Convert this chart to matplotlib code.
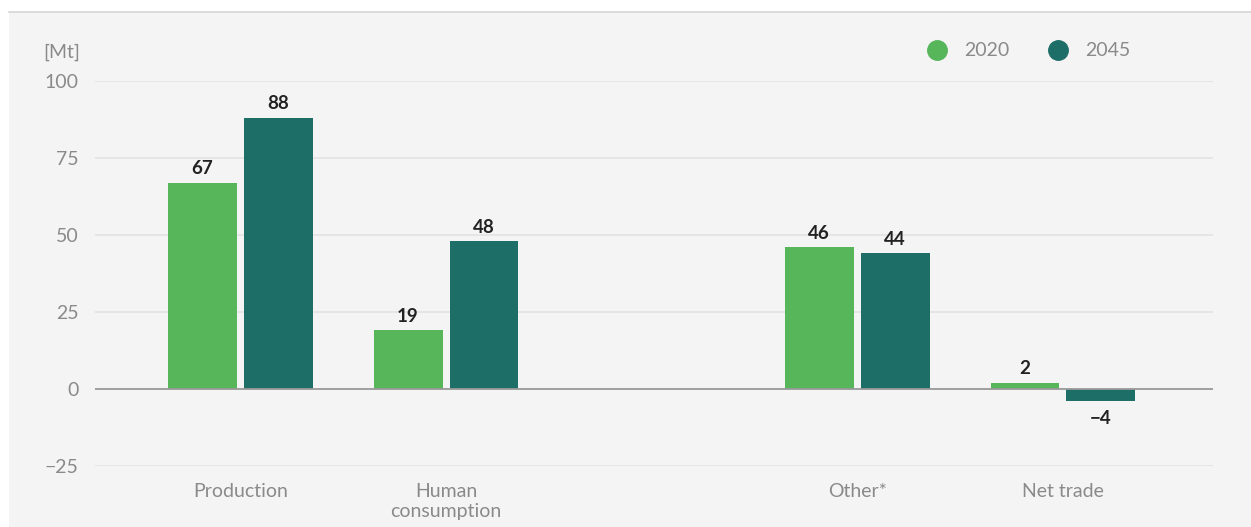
import numpy as np
import matplotlib.pyplot as plt
from matplotlib.patches import Rectangle
from matplotlib.lines import Line2D

categories = ['Production', 'Human\nconsumption', '', 'Other*', 'Net trade']
values_2020 = [67, 19, np.nan, 46, 2]
values_2045 = [88, 48, np.nan, 44, -4]
series_names = ['2020', '2045']
colors = ['#57b55a', '#1e6e68']
yticks = [-25, 0, 25, 50, 75, 100]

plt.rcParams['font.family'] = ['Lato', 'DejaVu Sans']

W, H = 1251, 527
fig = plt.figure(figsize=(W / 100, H / 100), dpi=100, facecolor='white')

# panel background with top rule
fig.patches.append(Rectangle((9 / W, 0), 1 - 9 / W, (H - 12) / H, transform=fig.transFigure,
                             facecolor='#f4f4f4', edgecolor='none', zorder=-5))
fig.lines.append(Line2D([9 / W, 1], [(H - 12) / H] * 2, transform=fig.transFigure,
                        color='#d6d6d6', lw=1.2, zorder=-4))

ax = fig.add_axes([95 / W, (H - 466) / H, (1213 - 95) / W, (466 - 81) / H])
ax.set_facecolor('none')
ax.set_zorder(2)

x = np.arange(len(categories))
bw = 0.335
gap = 0.034
off = (bw + gap) / 2
for vals, dx, c in [(values_2020, -off, colors[0]), (values_2045, off, colors[1])]:
    ax.bar(x + dx, vals, width=bw, color=c, zorder=3)
    for xi, v in zip(x + dx, vals):
        if np.isnan(v):
            continue
        if v >= 0:
            ax.annotate(f'{v:g}', (xi, v), xytext=(0, 4), textcoords='offset points',
                        ha='center', va='bottom', fontsize=13.5, fontweight='bold', color='#222222')
        else:
            ax.annotate(f'\u2212{abs(v):g}', (xi, v), xytext=(0, -6), textcoords='offset points',
                        ha='center', va='top', fontsize=13.5, fontweight='bold', color='#222222')

ax.set_xlim(-0.707, len(categories) - 1 + 0.73)
ax.set_ylim(-25, 100)
ax.set_yticks(yticks)
ax.set_yticklabels([f'\u2212{abs(t)}' if t < 0 else str(t) for t in yticks])
ax.grid(axis='y', color='#e4e4e4', lw=1.3, zorder=0)
ax.axhline(0, color='#9a9a9a', lw=1.3, zorder=4)
ax.set_xticks(x)
ax.set_xticklabels(categories, linespacing=1.25)
ax.tick_params(axis='both', length=0, labelsize=14, colors='#8a8a8a')
ax.tick_params(axis='x', pad=12)
ax.tick_params(axis='y', pad=12)
for s in ax.spines.values():
    s.set_visible(False)

fig.text(80 / W, (H - 52) / H, '[Mt]', ha='right', va='center', fontsize=14, color='#8a8a8a')

handles = [Line2D([], [], marker='o', ls='none', ms=14, color=c) for c in colors]
fig.legend(handles, series_names, loc='center', bbox_to_anchor=(1024 / W, (H - 51) / H),
           ncol=2, frameon=False, fontsize=14, labelcolor='#8a8a8a',
           handletextpad=0.4, columnspacing=1.5)

fig.savefig('out.png', dpi=100, facecolor='white')
